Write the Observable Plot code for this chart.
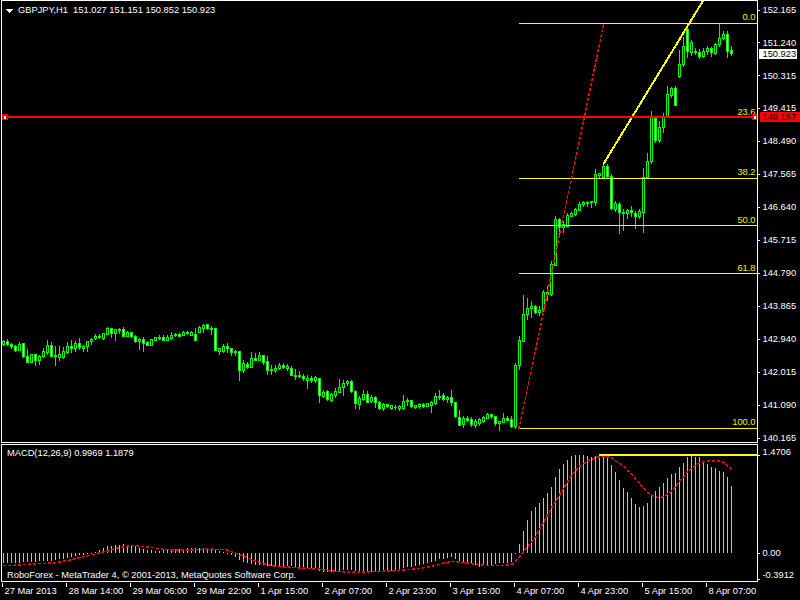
<!DOCTYPE html>
<html><head><meta charset="utf-8">
<script src="https://cdn.jsdelivr.net/npm/d3@7"></script>
<script src="https://cdn.jsdelivr.net/npm/@observablehq/plot@0.6"></script>
<style>
html,body{margin:0;padding:0;background:#000;}
#wrap{position:relative;width:800px;height:600px;background:#000;overflow:hidden;font-family:"Liberation Sans",Arial,sans-serif;font-size:9.3px;color:#fff;}
#main{position:absolute;left:0;top:0;}
#macd{position:absolute;left:0;top:444px;}
.lbl{position:absolute;white-space:pre;line-height:13px;color:#fff;}
#wrap svg{shape-rendering:crispEdges;}
</style></head><body>
<div id="wrap">
  <div id="main"></div>
  <div id="macd"></div>
  <svg style="position:absolute;left:6px;top:9px" width="8" height="5"><polygon points="0,0 7,0 3.5,4" fill="#fff"/></svg>
  <div class="lbl" id="hdr" style="left:18px;top:4px"></div>
  <div class="lbl" style="left:7px;top:447px">MACD(12,26,9) 0.9969 1.1879</div>
  <div class="lbl" style="left:7px;top:569px">RoboForex - MetaTrader 4, © 2001-2013, MetaQuotes Software Corp.</div>
</div>
<script>
const symbol = "GBPJPY,H1";
const opens = [142.77,142.85,142.77,142.71,142.61,142.80,142.43,142.28,142.48,142.31,
142.43,142.56,142.74,142.45,142.42,142.42,142.56,142.73,142.65,142.80,
142.67,142.71,142.85,142.93,142.96,142.93,143.06,143.21,143.08,143.19,
143.19,143.01,143.10,142.99,142.86,142.91,142.84,142.75,142.89,142.93,
142.96,142.89,142.94,143.03,143.06,143.03,143.10,143.03,143.05,143.12,
143.22,143.33,143.21,143.22,142.59,142.59,142.73,142.66,142.54,142.57,
142.03,142.21,142.14,142.37,142.33,142.46,142.29,142.05,142.05,142.10,
142.17,142.09,142.10,141.90,141.87,141.87,141.77,141.81,141.77,141.81,
141.32,141.46,141.21,141.34,141.44,141.56,141.67,141.74,141.46,141.09,
141.23,141.37,141.17,141.30,141.14,140.99,141.08,140.99,141.02,140.97,
140.97,141.17,141.20,141.02,141.04,141.09,141.04,141.06,141.12,141.31,
141.34,141.23,141.28,141.14,140.72,140.53,140.70,140.67,140.50,140.56,
140.60,140.69,140.80,140.74,140.56,140.58,140.69,140.67,140.48,142.17,
142.87,143.61,143.78,143.83,143.66,143.72,144.22,144.17,145.00,146.28,
146.05,146.09,146.37,146.42,146.54,146.70,146.73,146.75,146.75,147.50,
147.45,147.75,147.49,146.56,146.70,146.48,146.44,146.53,146.44,146.35,
146.48,147.45,147.91,149.10,148.50,148.87,149.17,149.76,149.94,150.28,
150.62,151.60,150.95,151.00,150.96,150.86,150.98,151.07,150.93,151.18,
151.35,151.46,151.027];
const highs = [142.91,142.93,142.82,142.77,142.84,142.82,142.65,142.49,142.49,142.49,
142.68,142.91,142.85,142.73,142.73,142.71,142.85,142.91,142.87,142.96,
142.77,142.87,142.95,143.06,143.07,143.10,143.26,143.22,143.21,143.24,
143.25,143.15,143.13,143.05,142.96,142.99,142.87,142.93,142.98,143.05,
143.03,143.03,143.13,143.10,143.10,143.16,143.15,143.15,143.24,143.29,
143.35,143.35,143.29,143.23,142.68,142.79,142.82,142.68,142.63,142.59,
142.35,142.28,142.57,142.54,142.56,142.49,142.45,142.21,142.21,142.26,
142.26,142.23,142.18,142.09,142.03,141.95,141.93,141.90,141.89,141.84,
141.49,141.49,141.42,141.56,141.81,141.79,141.77,141.77,141.49,141.32,
141.51,141.46,141.37,141.32,141.18,141.12,141.11,141.09,141.09,141.09,
141.37,141.28,141.23,141.09,141.14,141.12,141.14,141.18,141.42,141.51,
141.42,141.34,141.51,141.16,140.93,140.76,140.76,140.74,140.69,140.72,
140.78,140.86,140.83,140.76,140.64,140.86,140.76,140.76,142.26,143.01,
144.17,144.08,143.99,143.87,143.85,144.30,144.42,145.10,146.37,146.33,
146.23,146.47,146.49,146.61,146.77,146.80,146.80,146.80,147.70,147.58,
147.85,147.84,147.55,146.80,146.76,146.56,146.56,146.65,146.51,146.56,
147.73,148.15,149.33,149.19,149.04,149.27,150.03,150.00,150.02,151.04,
151.38,151.65,151.30,151.08,151.05,151.08,151.13,151.12,151.22,151.79,
151.55,151.55,151.151];
const lows = [142.74,142.73,142.65,142.57,142.59,142.40,142.24,142.26,142.18,142.21,
142.40,142.49,142.43,142.17,142.31,142.37,142.51,142.54,142.56,142.63,
142.57,142.57,142.75,142.89,142.94,142.91,143.03,142.95,142.87,143.06,
142.99,142.98,142.96,142.82,142.63,142.57,142.74,142.73,142.87,142.89,
142.87,142.87,142.91,142.98,142.97,143.02,143.03,143.01,142.88,143.10,
143.10,143.17,143.05,142.59,142.49,142.54,142.54,142.45,142.45,141.76,
141.98,142.09,142.12,142.31,142.31,142.21,141.93,141.93,141.98,142.07,
142.09,142.03,141.88,141.77,141.84,141.75,141.53,141.70,141.68,141.14,
141.28,141.18,141.16,141.28,141.42,141.32,141.60,141.42,140.97,140.95,
141.18,141.14,141.12,141.00,140.93,140.92,140.99,140.93,140.93,140.90,
140.95,141.04,141.00,140.97,140.97,141.00,141.03,140.86,141.09,141.23,
141.18,141.14,141.06,140.72,140.48,140.44,140.60,140.46,140.44,140.50,
140.56,140.67,140.69,140.50,140.34,140.56,140.62,140.44,140.41,142.07,
142.84,143.47,143.52,143.62,143.57,143.69,143.98,144.14,144.97,145.81,
145.90,146.06,146.35,146.37,146.53,146.62,146.62,146.61,146.66,147.45,
147.43,147.40,146.55,146.50,145.86,145.95,146.30,146.34,146.00,146.28,
145.90,147.43,147.82,148.41,148.41,148.70,149.11,149.69,149.45,150.25,
150.55,150.80,150.85,150.90,150.78,150.80,150.90,150.83,150.90,151.10,
151.30,150.80,150.852];
const closes = [142.87,142.77,142.71,142.61,142.77,142.43,142.28,142.48,142.31,142.45,
142.58,142.74,142.45,142.46,142.49,142.58,142.73,142.67,142.80,142.68,
142.73,142.85,142.91,143.01,143.01,143.08,143.21,143.08,143.19,143.17,
143.01,143.12,142.99,142.87,142.91,142.80,142.75,142.91,142.96,142.98,
142.89,142.96,143.03,143.05,143.01,143.12,143.08,143.12,142.89,143.24,
143.31,143.21,143.19,142.61,142.65,142.73,142.65,142.54,142.57,142.03,
142.23,142.14,142.37,142.33,142.46,142.26,142.05,142.07,142.11,142.17,
142.12,142.15,141.90,141.87,141.89,141.81,141.82,141.77,141.84,141.34,
141.42,141.23,141.37,141.46,141.56,141.68,141.74,141.45,141.12,141.26,
141.37,141.16,141.30,141.14,140.97,141.09,141.03,141.06,141.00,141.03,
141.18,141.21,141.03,141.06,141.09,141.04,141.11,141.14,141.31,141.28,
141.23,141.30,141.14,140.74,140.50,140.70,140.65,140.53,140.62,140.67,
140.72,140.81,140.76,140.55,140.60,140.70,140.65,140.48,142.17,142.89,
143.61,143.78,143.83,143.66,143.72,144.22,144.17,145.02,146.28,146.05,
146.14,146.39,146.44,146.56,146.70,146.74,146.75,146.77,147.54,147.56,
147.75,147.47,146.58,146.72,146.46,146.45,146.53,146.46,146.37,146.51,
147.45,147.91,149.13,148.50,148.87,149.17,149.78,149.94,149.47,150.62,
151.13,150.98,151.23,150.95,150.86,151.00,151.07,150.97,151.18,151.35,
151.46,150.99,150.923];
const macdHist = [-0.155,-0.155,-0.150,-0.146,-0.146,-0.141,-0.136,-0.136,-0.131,-0.126,
-0.126,-0.121,-0.117,-0.107,-0.097,-0.087,-0.073,-0.058,-0.049,-0.039,
-0.029,-0.019,-0.010,0.010,0.039,0.073,0.097,0.107,0.121,0.121,
0.126,0.121,0.107,0.097,0.073,0.058,0.049,0.039,0.034,0.034,
0.039,0.044,0.049,0.058,0.063,0.063,0.068,0.073,0.068,0.073,
0.078,0.073,0.068,0.049,0.029,0.010,-0.015,-0.039,-0.058,-0.107,
-0.136,-0.155,-0.165,-0.175,-0.180,-0.184,-0.194,-0.204,-0.209,-0.209,
-0.209,-0.204,-0.204,-0.214,-0.218,-0.218,-0.223,-0.233,-0.243,-0.272,
-0.282,-0.291,-0.291,-0.282,-0.272,-0.262,-0.252,-0.252,-0.272,-0.291,
-0.301,-0.291,-0.282,-0.282,-0.282,-0.282,-0.282,-0.277,-0.272,-0.262,
-0.233,-0.218,-0.209,-0.194,-0.184,-0.170,-0.155,-0.136,-0.121,-0.097,
-0.087,-0.073,-0.063,-0.087,-0.121,-0.136,-0.146,-0.170,-0.184,-0.209,
-0.194,-0.184,-0.184,-0.170,-0.155,-0.155,-0.146,-0.136,-0.024,0.136,
0.330,0.485,0.621,0.689,0.752,0.825,0.898,0.985,1.141,1.252,
1.335,1.393,1.447,1.456,1.466,1.4706,1.447,1.432,1.447,1.447,
1.456,1.432,1.311,1.204,1.083,0.971,0.908,0.825,0.728,0.680,
0.704,0.752,0.874,0.932,0.985,1.044,1.117,1.180,1.189,1.286,
1.345,1.432,1.456,1.432,1.432,1.359,1.335,1.286,1.262,1.223,
1.204,1.141,0.997];
const macdSignal = [-0.184,-0.182,-0.180,-0.178,-0.175,-0.170,-0.165,-0.160,-0.155,-0.152,
-0.150,-0.148,-0.146,-0.140,-0.130,-0.118,-0.107,-0.095,-0.080,-0.065,
-0.050,-0.039,-0.025,-0.010,0.005,0.020,0.034,0.050,0.073,0.085,
0.095,0.107,0.117,0.115,0.110,0.100,0.095,0.087,0.078,0.068,
0.060,0.055,0.049,0.049,0.050,0.050,0.049,0.052,0.055,0.058,
0.060,0.062,0.063,0.062,0.058,0.054,0.049,0.025,0.005,-0.024,
-0.045,-0.060,-0.097,-0.115,-0.136,-0.155,-0.170,-0.180,-0.194,-0.200,
-0.204,-0.206,-0.210,-0.214,-0.218,-0.222,-0.226,-0.230,-0.233,-0.238,
-0.245,-0.252,-0.262,-0.268,-0.273,-0.278,-0.282,-0.282,-0.282,-0.282,
-0.280,-0.278,-0.272,-0.270,-0.268,-0.267,-0.265,-0.262,-0.258,-0.252,
-0.248,-0.243,-0.238,-0.233,-0.225,-0.215,-0.205,-0.194,-0.180,-0.165,
-0.146,-0.135,-0.121,-0.125,-0.130,-0.140,-0.146,-0.155,-0.163,-0.170,
-0.176,-0.180,-0.184,-0.184,-0.184,-0.180,-0.172,-0.165,-0.120,-0.049,
0.024,0.097,0.170,0.243,0.364,0.461,0.573,0.680,0.777,0.874,
0.971,1.068,1.165,1.238,1.301,1.335,1.383,1.408,1.432,1.442,
1.447,1.442,1.432,1.383,1.350,1.301,1.238,1.189,1.117,1.044,
0.971,0.913,0.874,0.840,0.835,0.850,0.883,0.932,0.995,1.078,
1.141,1.214,1.272,1.320,1.350,1.369,1.383,1.383,1.383,1.379,
1.359,1.311,1.260];
const priceTicks = [152.165,151.240,150.315,149.415,148.490,147.565,146.640,145.715,144.790,143.865,142.940,142.015,141.090,140.165];
const macdTicks = [1.4706, 0, -0.3912];
const macdTickLabels = ["1.4706","0.00","-0.3912"];
const timeTickIdx = [0,16,32,48,64,80,96,112,128,144,160,176];
const timeTickLabels = ["27 Mar 2013","28 Mar 14:00","29 Mar 06:00","29 Mar 22:00","1 Apr 15:00","2 Apr 07:00","2 Apr 23:00","3 Apr 15:00","4 Apr 07:00","4 Apr 23:00","5 Apr 15:00","8 Apr 07:00"];
const fibLabels = ["0.0","23.6","38.2","50.0","61.8","100.0"];
const fibPrices = [151.79,149.14,147.45,146.115,144.776,140.44];
const fibAnchorIdx = [128.9,150.1];
const fibAnchorPrice = [140.44,151.79];
const trendIdx = [150,175];
const trendPrice = [147.85,152.445];
const hLinePrice = 149.157;
const hLineMarkIdx = [0.4,187.9];
const macdHLine = 1.4706;
const macdHLineStartIdx = 148.9;

const N = opens.length;
const RIGHT = 188.5;
const candles = opens.map((o,i)=>({i, o, h: highs[i], l: lows[i], c: closes[i]}));
const macd = macdHist.map((v,i)=>({i, v, s: macdSignal[i]}));
const fib = fibLabels.map((t,k)=>({t, p: fibPrices[k]}));
const fibLine = fibAnchorIdx.map((x,k)=>({x, y: fibAnchorPrice[k]}));
const trend = trendIdx.map((x,k)=>({x, y: trendPrice[k]}));
const last = N-1;
document.getElementById("hdr").textContent = symbol + "  " + [opens[last],highs[last],lows[last],closes[last]].map(v=>v.toFixed(3)).join(" ");

const font = "'Liberation Sans', Arial, sans-serif";
const style = {background:"#000", color:"#fff", fontFamily: font, fontSize:"9.3px", overflow:"visible"};
const xScale = {type:"linear", domain:[0,182], range:[3,731], axis:null};

const mainChart = Plot.plot({
  width: 800, height: 444,
  marginLeft: 1, marginRight: 43, marginTop: 0, marginBottom: 2,
  style,
  x: xScale,
  y: {type:"linear", domain:[140.165,152.165], range:[437.5,9.5], axis:null},
  color: {type:"identity"},
  marks: [
    Plot.ruleX(candles, {x:"i", y1:"l", y2:"h", stroke:"#00ff00"}),
    Plot.rect(candles, {x1: d=>d.i-0.25, x2: d=>d.i+0.25, y1:"o", y2:"c", fill: d=> d.c>=d.o ? "#000000" : "#ffffff", stroke:"#00ff00"}),
    Plot.ruleY(fib, {y:"p", x1: fibAnchorIdx[0], x2: RIGHT, stroke:"#ffff00", clip:true}),
    Plot.text(fib, {x: RIGHT, y:"p", text:"t", textAnchor:"end", dx:-2, dy:-6, fill:"#f0f000"}),
    Plot.line(fibLine, {x:"x", y:"y", stroke:"#ff0000", strokeDasharray:"2,3", clip:true}),
    Plot.line(trend, {x:"x", y:"y", stroke:"#ffff00", strokeWidth:2, clip:true}),
    Plot.ruleY([hLinePrice], {y: d=>d, stroke:"#ff0000", strokeWidth:1.6}),
    Plot.dot(hLineMarkIdx, {x: d=>d, y: hLinePrice, symbol:"square", r:2.3, fill:"#ffffff", stroke:"#ff0000"}),
    Plot.frame({stroke:"#ffffff"}),
    Plot.ruleY(priceTicks, {y: d=>d, x1: RIGHT, x2: RIGHT+0.8, stroke:"#ffffff"}),
    Plot.text(priceTicks, {x: RIGHT, y: d=>d, text: d=>d.toFixed(3), textAnchor:"start", dx:5, fill:"#ffffff"}),
    Plot.rect([closes[last]], {x1: 189, x2: 198.6, y1: d=>d-0.14, y2: d=>d+0.14, fill:"#ffffff"}),
    Plot.text([closes[last]], {x: RIGHT, y: d=>d, text: d=>d.toFixed(3), textAnchor:"start", dx:5, fill:"#000000"}),
    Plot.rect([hLinePrice], {x1: 189.3, x2: 199.5, y1: d=>d-0.14, y2: d=>d+0.14, fill:"#ff0000"}),
    Plot.text([hLinePrice], {x: RIGHT, y: d=>d, text: d=>d.toFixed(3), textAnchor:"start", dx:5, fill:"#000000"})
  ]
});
document.getElementById("main").appendChild(mainChart);

const yMacd = {type:"linear", domain:[-0.3912,1.4706], range:[135,10.5], axis:null};
const macdChart = Plot.plot({
  width: 800, height: 156,
  marginLeft: 1, marginRight: 43, marginTop: 0, marginBottom: 19,
  style,
  x: xScale,
  y: yMacd,
  marks: [
    Plot.ruleX(macd, {x:"i", y1: 0, y2:"v", stroke:"#c0c0c0"}),
    Plot.line(macd, {x:"i", y:"s", stroke:"#ff0000", strokeDasharray:"2,3"}),
    Plot.ruleY([macdHLine], {y: d=>d, x1: macdHLineStartIdx, x2: RIGHT, stroke:"#ffff00", strokeWidth:2}),
    Plot.frame({stroke:"#ffffff"}),
    Plot.ruleY(macdTicks, {y: d=>d, x1: RIGHT, x2: RIGHT+0.8, stroke:"#ffffff"}),
    Plot.text([macdTicks[0]], {x: RIGHT, y: d=>d, text: [macdTickLabels[0]], textAnchor:"start", dx:5, dy:-3, fill:"#ffffff"}),
    Plot.text([macdTicks[1]], {x: RIGHT, y: d=>d, text: [macdTickLabels[1]], textAnchor:"start", dx:5, fill:"#ffffff"}),
    Plot.text([macdTicks[2]], {x: RIGHT, y: d=>d, text: [macdTickLabels[2]], textAnchor:"start", dx:5, dy:-4.5, fill:"#ffffff"}),
    Plot.ruleX(timeTickIdx, {x: d=>d, y1: -0.45, y2: -0.51, dx:-1, stroke:"#ffffff"}),
    Plot.text(timeTickIdx, {x: d=>d, y: -0.3912, text: timeTickLabels, textAnchor:"start", dx:1, dy:12, fill:"#ffffff"})
  ]
});
document.getElementById("macd").appendChild(macdChart);
</script>
</body></html>
